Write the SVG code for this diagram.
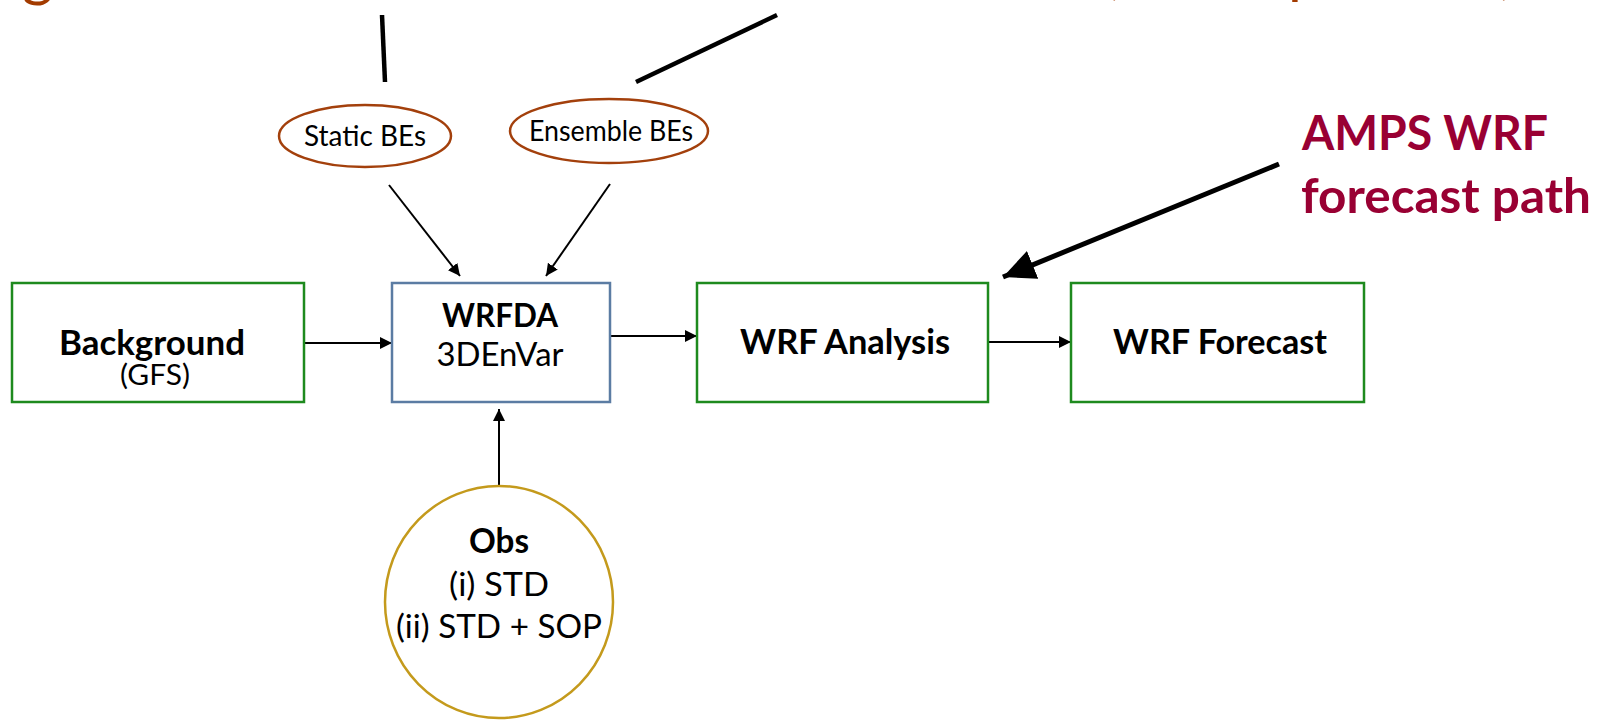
<svg xmlns="http://www.w3.org/2000/svg" width="1604" height="720" viewBox="0 0 1604 720">
<defs>
<marker id="ah" markerUnits="userSpaceOnUse" markerWidth="14" markerHeight="12" refX="12" refY="6" orient="auto">
<path d="M0,0 L12,6 L0,12 Z" fill="#000"/>
</marker>
<marker id="bigah" markerUnits="userSpaceOnUse" markerWidth="34" markerHeight="30" refX="32" refY="15" orient="auto">
<path d="M0,0 L32,15 L0,30 Z" fill="#000"/>
</marker>
<style>
.box-g{fill:#fff;stroke:#1E8A1E;stroke-width:2.5}
.box-b{fill:#fff;stroke:#5B7CA3;stroke-width:2.5}
.ell{fill:#fff;stroke:#A3400C;stroke-width:2.5}
.circ{fill:#fff;stroke:#C49A1C;stroke-width:2.5}
.t{font-family:Lato,"Open Sans","Liberation Sans",sans-serif;fill:#000;text-anchor:middle}
.b{font-weight:bold}
.conn{stroke:#000;stroke-width:2;fill:none;marker-end:url(#ah)}
.callout{stroke:#000;stroke-width:4.5;fill:none}
.top{font-family:Lato,"Open Sans","Liberation Sans",sans-serif;fill:#A33B00;font-size:60px}
.amps{font-family:Lato,"Open Sans","Liberation Sans",sans-serif;fill:#990033;font-weight:bold;font-size:47px}
</style>
</defs>
<rect width="1604" height="720" fill="#fff"/>

<g id="top-text">
<text class="top" x="22" y="-5">g</text>
<text class="top" x="1103" y="-8">(</text>
<text class="top" x="1288" y="-8">p</text>
<text class="top" x="1499" y="-8">)</text>
</g>

<g id="connectors">
<line class="callout" x1="382" y1="15" x2="385" y2="82"/>
<line class="callout" x1="777" y1="15" x2="636" y2="82"/>
<line class="conn" x1="389" y1="185" x2="460" y2="276"/>
<line class="conn" x1="610" y1="184" x2="546" y2="276"/>
<line class="conn" x1="304" y1="343" x2="392" y2="343"/>
<line class="conn" x1="610" y1="336" x2="697" y2="336"/>
<line class="conn" x1="988" y1="342" x2="1071" y2="342"/>
<line class="conn" x1="499" y1="486" x2="499" y2="409"/>
<line x1="1279" y1="164" x2="1003" y2="277" stroke="#000" stroke-width="5" marker-end="url(#bigah)"/>
</g>

<g id="static-bes">
<ellipse class="ell" cx="365" cy="136" rx="86" ry="31"/>
<text class="t" x="365" y="146" font-size="28" textLength="122" lengthAdjust="spacingAndGlyphs">Static BEs</text>
</g>

<g id="ensemble-bes">
<ellipse class="ell" cx="609" cy="131" rx="99" ry="32"/>
<text class="t" x="611" y="141" font-size="28" textLength="164" lengthAdjust="spacingAndGlyphs">Ensemble BEs</text>
</g>

<g id="background">
<rect class="box-g" x="12" y="283" width="292" height="119"/>
<text class="t b" x="152" y="355" font-size="35" textLength="186" lengthAdjust="spacingAndGlyphs">Background</text>
<text class="t" x="155" y="385" font-size="29" textLength="70" lengthAdjust="spacingAndGlyphs">(GFS)</text>
</g>

<g id="wrfda">
<rect class="box-b" x="392" y="283" width="218" height="119"/>
<text class="t b" x="500" y="327" font-size="32" textLength="116" lengthAdjust="spacingAndGlyphs">WRFDA</text>
<text class="t" x="500" y="366" font-size="32" textLength="127" lengthAdjust="spacingAndGlyphs">3DEnVar</text>
</g>

<g id="wrf-analysis">
<rect class="box-g" x="697" y="283" width="291" height="119"/>
<text class="t b" x="845" y="354" font-size="35" textLength="210" lengthAdjust="spacingAndGlyphs">WRF Analysis</text>
</g>

<g id="wrf-forecast">
<rect class="box-g" x="1071" y="283" width="293" height="119"/>
<text class="t b" x="1220" y="354" font-size="35" textLength="214" lengthAdjust="spacingAndGlyphs">WRF Forecast</text>
</g>

<g id="obs">
<ellipse class="circ" cx="499" cy="602" rx="114" ry="116"/>
<text class="t b" x="499" y="553" font-size="34" textLength="60" lengthAdjust="spacingAndGlyphs">Obs</text>
<text class="t" x="499" y="596" font-size="33" textLength="100" lengthAdjust="spacingAndGlyphs">(i) STD</text>
<text class="t" x="499" y="638" font-size="33" textLength="206" lengthAdjust="spacingAndGlyphs">(ii) STD + SOP</text>
</g>

<g id="amps-label">
<text class="amps" x="1302" y="150" textLength="246" lengthAdjust="spacingAndGlyphs">AMPS WRF</text>
<text class="amps" x="1301" y="213" textLength="290" lengthAdjust="spacingAndGlyphs">forecast path</text>
</g>
</svg>
